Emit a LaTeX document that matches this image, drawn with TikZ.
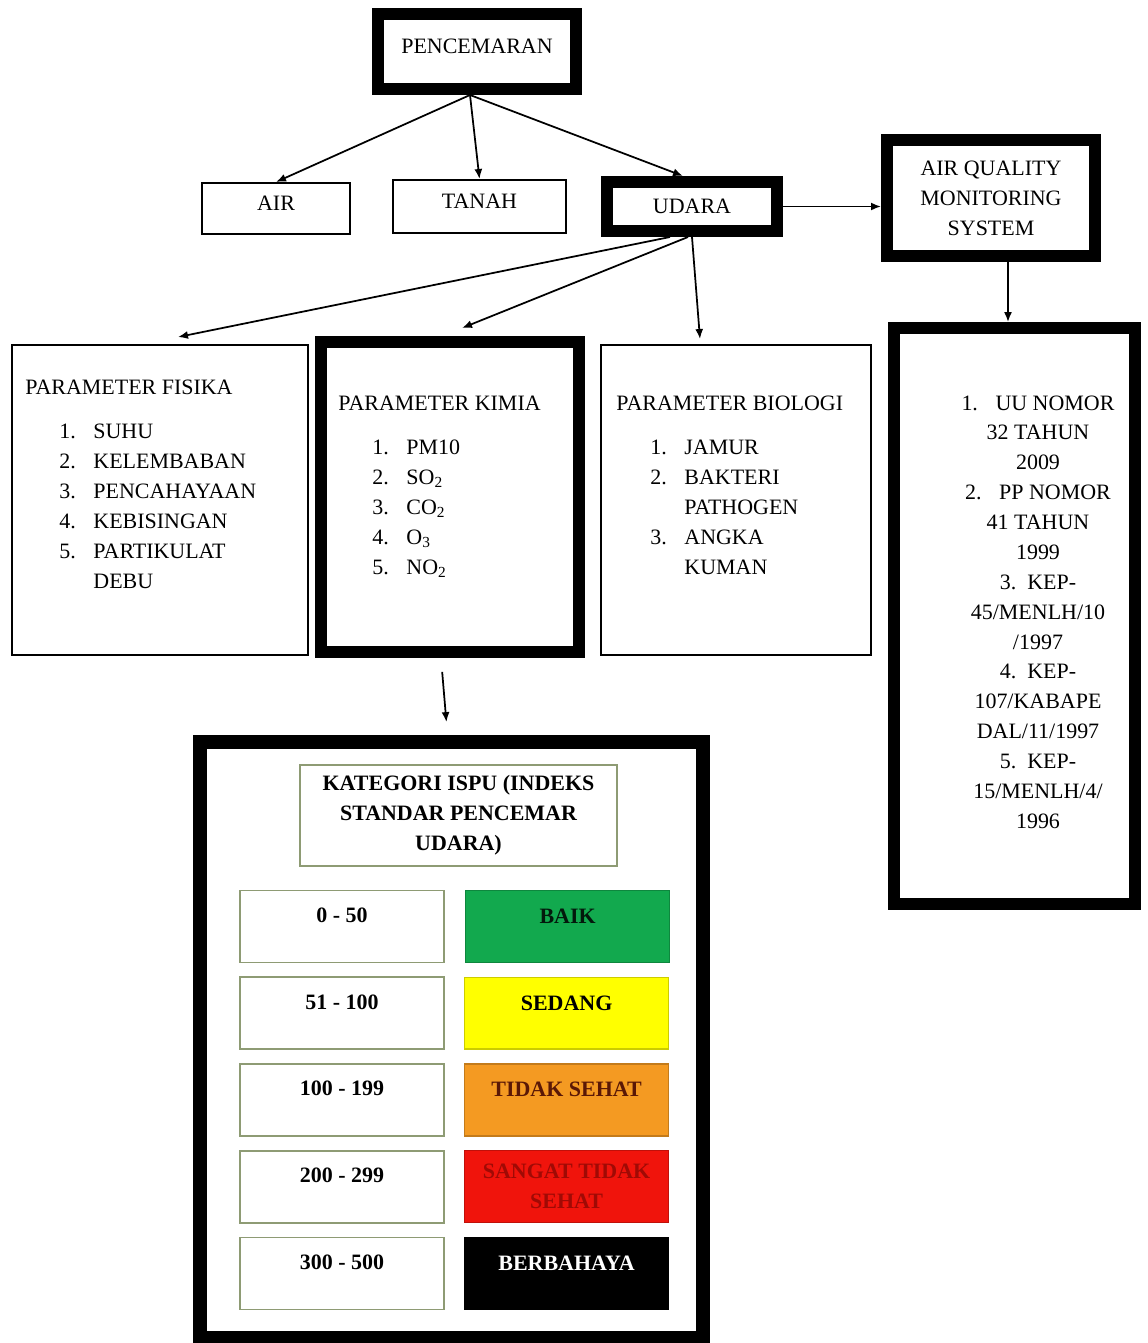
\documentclass[tikz,border=0pt]{standalone}
\usepackage{fontspec}
\setmainfont{Liberation Serif}
\usetikzlibrary{positioning, arrows.meta}

\definecolor{ispuline}{HTML}{8E9B74}
\definecolor{baik}{HTML}{12A94E}
\definecolor{sedang}{HTML}{FFFF00}
\definecolor{tidaksehat}{HTML}{F49A22}
\definecolor{sangat}{HTML}{F0140C}
\definecolor{tstext}{HTML}{5A1806}
\definecolor{sttext}{HTML}{A00A05}

\newcommand{\itm}[2]{\hspace*{1.55em}\makebox[1.55em][l]{#1.}#2}
\newcommand{\itmwrap}[1]{\hspace*{3.1em}#1}

\begin{document}
\begin{tikzpicture}[
  x=0.02cm, y=-0.02cm,
  font=\fontsize{12.5}{17}\selectfont,
  box/.style={rectangle, draw, line width=0.04cm, inner sep=0pt},
  heavy/.style={rectangle, draw, line width=0.24cm, inner sep=0pt},
  lift/.style={text depth=0.2cm},
  low/.style={text depth=0.42cm},
  listtxt/.style={inner sep=0pt, align=left, anchor=north west},
  rng/.style={rectangle, draw=ispuline, line width=0.035cm,
              minimum width=4.08cm, minimum height=1.44cm, text depth=0.46cm,
              font=\fontsize{12.5}{17}\selectfont\bfseries},
  cat/.style={rectangle, draw=#1!80!black, fill=#1, line width=0.03cm,
              minimum width=4.08cm, minimum height=1.44cm,
              font=\fontsize{12.5}{17}\selectfont\bfseries},
  arr/.style={-{Latex[length=0.2cm, width=0.16cm]}, line width=0.035cm}
]
  \useasboundingbox (0,0) rectangle (1147,1343);

  % pencemaran and its three kinds
  \node[heavy, lift, minimum width=3.96cm, minimum height=1.5cm] (pen) at (477,51.5) {PENCEMARAN};
  \node[box, lift, minimum width=2.96cm, minimum height=1.02cm] (air) at (276,208.5) {AIR};
  \node[box, lift, minimum width=3.46cm, minimum height=1.06cm] (tanah) at (479.5,206.5) {TANAH};
  \node[heavy, minimum width=3.4cm, minimum height=0.98cm] (udara) at (692,206.5) {UDARA};
  \node[heavy, align=center, minimum width=4.16cm, minimum height=2.32cm] (aqms) at (991,198) {AIR QUALITY\\MONITORING\\SYSTEM};

  % parameter boxes
  \node[box, minimum width=5.92cm, minimum height=6.2cm] (fisika) at (160,500) {};
  \node[heavy, minimum width=5.16cm, minimum height=6.2cm] (kimia) at (450,497) {};
  \node[box, minimum width=5.4cm, minimum height=6.2cm] (biologi) at (736,500) {};
  \node[heavy, minimum width=4.82cm, minimum height=11.52cm] (uu) at (1014.5,616) {};

  \node[listtxt] (fisikatxt) at (25,380) {PARAMETER FISIKA\\[8pt]
    \itm{1}{SUHU}\\
    \itm{2}{KELEMBABAN}\\
    \itm{3}{PENCAHAYAAN}\\
    \itm{4}{KEBISINGAN}\\
    \itm{5}{PARTIKULAT}\\
    \itmwrap{DEBU}};
  \node[listtxt] (kimiatxt) at (338,396) {PARAMETER KIMIA\\[8pt]
    \itm{1}{PM10}\\
    \itm{2}{SO\textsubscript{2}}\\
    \itm{3}{CO\textsubscript{2}}\\
    \itm{4}{O\textsubscript{3}}\\
    \itm{5}{NO\textsubscript{2}}};
  \node[listtxt] (biologitxt) at (616,396) {PARAMETER BIOLOGI\\[8pt]
    \itm{1}{JAMUR}\\
    \itm{2}{BAKTERI}\\
    \itmwrap{PATHOGEN}\\
    \itm{3}{ANGKA}\\
    \itmwrap{KUMAN}};
  \node[inner sep=0pt, align=center] (uutxt) at (1038,612) {1.\hspace{0.8em}UU NOMOR\\32 TAHUN\\2009\\
    2.\hspace{0.8em}PP NOMOR\\41 TAHUN\\1999\\
    3.\hspace{0.5em}KEP-\\45/MENLH/10\\/1997\\
    4.\hspace{0.5em}KEP-\\107/KABAPE\\DAL/11/1997\\
    5.\hspace{0.5em}KEP-\\15/MENLH/4/\\1996};

  % ispu categories
  \node[heavy, line width=0.28cm, minimum width=10.06cm, minimum height=11.92cm] (ispu) at (451.5,1040) {};
  \node[rectangle, draw=ispuline, line width=0.035cm, align=center,
        minimum width=6.34cm, minimum height=2.02cm,
        font=\fontsize{12.5}{17}\selectfont\bfseries] (ispuhead) at (458.5,815.5)
        {KATEGORI ISPU (INDEKS\\STANDAR PENCEMAR\\UDARA)};

  \node[rng] (r1) at (342,926.5) {0 - 50};
  \node[rng, below=0.26cm of r1] (r2) {51 - 100};
  \node[rng, below=0.26cm of r2] (r3) {100 - 199};
  \node[rng, below=0.26cm of r3] (r4) {200 - 299};
  \node[rng, below=0.26cm of r4] (r5) {300 - 500};

  \node[cat=baik, low, text=black!85!baik, right=0.4cm of r1] (c1) {BAIK};
  \node[cat=sedang, low, right=0.38cm of r2] (c2) {SEDANG};
  \node[cat=tidaksehat, low, text=tstext, right=0.38cm of r3] (c3) {TIDAK SEHAT};
  \node[cat=sangat, align=center, text=sttext, right=0.38cm of r4] (c4) {SANGAT TIDAK\\SEHAT};
  \node[cat=black, low, text=white, right=0.38cm of r5] (c5) {BERBAHAYA};

  \draw[arr] ([xshift=-0.14cm]pen.south) -- (air.north);
  \draw[arr] ([xshift=-0.14cm]pen.south) -- (tanah.north);
  \draw[arr] ([xshift=-0.14cm]pen.south) -- ([xshift=-0.18cm]udara.north);
  \draw[arr] (udara.east) -- (udara.east -| aqms.west);
  \draw[arr] ([xshift=-0.44cm]udara.south) -- ([xshift=0.36cm, yshift=0.14cm]fisika.north);
  \draw[arr] ([xshift=-0.08cm]udara.south) -- ([xshift=0.24cm, yshift=0.16cm]kimia.north);
  \draw[arr] (udara.south) -- ([xshift=-0.72cm, yshift=0.1cm]biologi.north);
  \draw[arr] ([xshift=0.34cm]aqms.south) -- ([xshift=0.34cm]aqms.south |- uu.north);
  \draw[arr, shorten <=0.28cm, shorten >=0.26cm] ([xshift=-0.18cm]kimia.south) -- ([xshift=-0.08cm]ispu.north);
\end{tikzpicture}
\end{document}
